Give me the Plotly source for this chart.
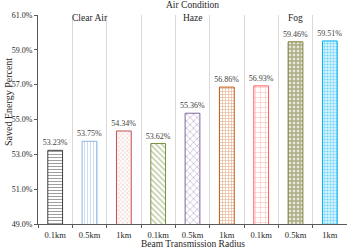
import plotly.graph_objects as go

groups = ["Clear Air", "Haze", "Fog"]
radii = ["0.1km", "0.5km", "1km"]
values = [53.23, 53.75, 54.34, 53.62, 55.36, 56.86, 56.93, 59.46, 59.51]
y_ticks = [49.0, 51.0, 53.0, 55.0, 57.0, 59.0, 61.0]

line_colors = ["#3f3f3f", "#8db4e2", "#c0504d", "#76923c", "#8064a2",
               "#c55a11", "#ff5b5b", "#7f7f3f", "#00b0f0"]
fg_colors = ["#3f3f3f", "#8db4e2", "#e6a3a1", "#76923c", "#8064a2",
             "#c55a11", "#ff6b6b", "#6f6f35", "#00b0f0"]
bg_colors = ["white", "white", "white", "white", "white",
             "white", "white", "#e8e8d8", "#d6f3fd"]
shapes_ = ["-", "|", "x", "\\", "x", "+", "+", "+", "."]
sizes = [3, 3, 3, 4, 5, 3, 5, 4, 3]
solid = [0.35, 0.3, 0.4, 0.35, 0.25, 0.35, 0.2, 0.6, 0.35]

FONT = "Liberation Serif, Times New Roman, serif"
TXT = "#262626"

labels = [r for g in groups for r in radii]
xs = list(range(len(values)))

fig = go.Figure()
for i, v in enumerate(values):
    fig.add_trace(go.Bar(
        x=[xs[i]], y=[v], width=0.43,
        marker=dict(
            color=bg_colors[i],
            line=dict(color=line_colors[i], width=1),
            pattern=dict(shape=shapes_[i], fgcolor=fg_colors[i], bgcolor=bg_colors[i],
                         size=sizes[i], solidity=solid[i], fillmode="overlay"),
        ),
        text=[f"{v:.2f}%"], textposition="outside", constraintext="none",
        textfont=dict(family=FONT, size=8, color="#404040"),
        cliponaxis=False, showlegend=False, hoverinfo="skip",
    ))

n = len(values)
W, H, L, R, T, B = 347, 249, 38, 0, 15, 25
fig.update_layout(
    width=W, height=H,
    margin=dict(l=L, r=R, t=T, b=B, autoexpand=False),
    plot_bgcolor="white", paper_bgcolor="white",
    font=dict(family=FONT, size=8, color=TXT),
    bargap=0,
    xaxis=dict(
        range=[-0.5, n - 0.5], tickmode="array", tickvals=xs, ticktext=labels,
        ticks="", showgrid=False, zeroline=False,
        showline=True, linecolor="#595959", linewidth=1,
        tickfont=dict(family=FONT, size=8.5, color=TXT),
        ticklabelstandoff=3,
        minor=dict(tickmode="array", tickvals=[i + 0.5 for i in range(-1, n)],
                   ticks="outside", ticklen=3, tickcolor="#595959",
                   showgrid=True, gridcolor="#d9d9d9", gridwidth=1),
    ),
    yaxis=dict(
        range=[y_ticks[0], y_ticks[-1]], tickmode="array", tickvals=y_ticks,
        ticktext=[f"{t:.1f}%" for t in y_ticks],
        showgrid=False, zeroline=False,
        showline=True, linecolor="#595959", linewidth=1,
        ticks="outside", ticklen=3, tickcolor="#595959",
        tickfont=dict(family=FONT, size=8, color=TXT),
    ),
)

def py(pix):
    return 1 - (pix - T) / (H - T - B)

def px(pix):
    return (pix - L) / (W - L - R)

common = dict(showarrow=False, xanchor="center", yanchor="middle", yref="paper")
fig.add_annotation(text="Air Condition", x=0.5, xref="paper", y=py(5),
                   font=dict(family=FONT, size=9.5, color=TXT), **common)
fig.add_annotation(text="Beam Transmission Radius", x=0.5, xref="paper", y=py(244),
                   font=dict(family=FONT, size=9.5, color=TXT), **common)
fig.add_annotation(text="Saved Energy Percent", x=px(8), xref="paper", y=py(102),
                   textangle=-90, font=dict(family=FONT, size=10, color=TXT), **common)
for gi, g in enumerate(groups):
    mid = gi * len(radii) + 1
    fig.add_annotation(text=g, x=xs[mid], xref="x", y=py(18),
                       font=dict(family=FONT, size=9.5, color=TXT), **common)

fig.write_html("out.html", config={"displayModeBar": False, "staticPlot": True},
               post_script="document.body.style.margin='0';document.body.style.overflow='hidden';")
